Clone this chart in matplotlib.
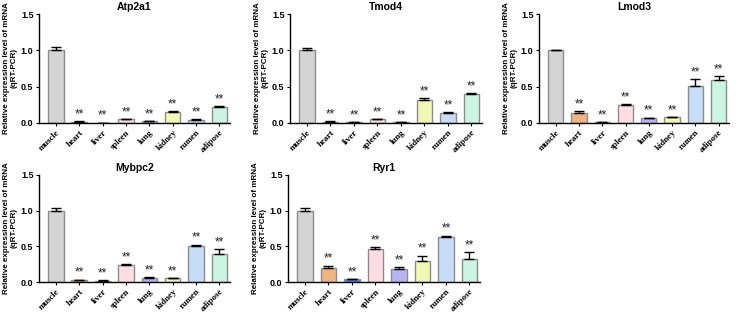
import matplotlib
matplotlib.use("Agg")
import matplotlib.pyplot as plt
import numpy as np

tissues = ["muscle", "heart", "liver", "spleen", "lung", "kidney", "rumen", "adipose"]
colors = ["#D4D4D4", "#F2B47E", "#3E86E6", "#FFDDE2", "#B4B4F5", "#F3F8B4", "#C6DCF7", "#C9F5E2"]

genes = ["Atp2a1", "Tmod4", "Lmod3", "Mybpc2", "Ryr1"]

atp2a1 = [1.00, 0.02, 0.003, 0.05, 0.025, 0.15, 0.04, 0.22]
atp2a1_err = [0.05, 0.005, 0.002, 0.005, 0.005, 0.01, 0.01, 0.015]
tmod4 = [1.00, 0.02, 0.01, 0.05, 0.01, 0.31, 0.14, 0.40]
tmod4_err = [0.03, 0.004, 0.003, 0.005, 0.003, 0.035, 0.015, 0.015]
lmod3 = [1.00, 0.14, 0.01, 0.25, 0.07, 0.08, 0.51, 0.59]
lmod3_err = [0.01, 0.025, 0.003, 0.01, 0.005, 0.005, 0.095, 0.055]
mybpc2 = [1.00, 0.03, 0.02, 0.245, 0.055, 0.05, 0.505, 0.39]
mybpc2_err = [0.04, 0.005, 0.005, 0.005, 0.01, 0.005, 0.02, 0.07]
ryr1 = [1.00, 0.20, 0.04, 0.46, 0.18, 0.30, 0.63, 0.32]
ryr1_err = [0.04, 0.03, 0.005, 0.03, 0.035, 0.07, 0.02, 0.10]

values = [atp2a1, tmod4, lmod3, mybpc2, ryr1]
errors = [atp2a1_err, tmod4_err, lmod3_err, mybpc2_err, ryr1_err]

W, H = 739, 312
fig = plt.figure(figsize=(W / 100, H / 100), dpi=100)

# axes boxes in pixels: left, right, top, bottom
boxes = [(39, 230, 14, 123), (290, 482, 14, 123), (539, 729, 14, 123),
         (39, 230, 175, 282), (288, 480, 175, 282)]

ylabel = "Relative expression level of mRNA\n(qRT-PCR)"

for gene, vals, errs, (l, r, t, b) in zip(genes, values, errors, boxes):
    ax = fig.add_axes([l / W, 1 - b / H, (r - l) / W, (b - t) / H])
    x = np.arange(len(tissues))
    lower = np.zeros(len(vals))
    ax.bar(x, vals, width=0.66, color=colors, edgecolor="#8C8C8C", linewidth=1.0,
           yerr=[lower, errs], error_kw=dict(ecolor="black", elinewidth=1.0, capsize=3.5, capthick=1.0),
           zorder=2)
    for i in range(1, len(tissues)):
        ax.text(x[i], vals[i] + errs[i] + 0.01, "**", ha="center", va="bottom",
                fontsize=8.5, color="#222222", family="Liberation Sans")
    ax.set_xlim(-0.72, 7.45)
    ax.set_ylim(0, 1.5)
    ax.set_yticks([0.0, 0.5, 1.0, 1.5])
    ax.set_yticklabels(["0.0", "0.5", "1.0", "1.5"], fontsize=6.5, fontweight="bold",
                       family="Liberation Sans")
    ax.set_xticks(x)
    ax.set_xticklabels(tissues, rotation=45, ha="right", rotation_mode="anchor",
                       fontsize=6.3, fontweight="bold", family="Liberation Serif")
    ax.tick_params(axis="both", length=2.5, width=0.8, pad=1.5)
    for s in ["top", "right"]:
        ax.spines[s].set_visible(False)
    for s in ["left", "bottom"]:
        ax.spines[s].set_linewidth(1.0)
    ax.set_title(gene, fontsize=7.5, fontweight="bold", family="Liberation Sans", pad=3)
    ax.set_ylabel(ylabel, fontsize=5.8, fontweight="bold", family="Liberation Sans",
                  labelpad=2, linespacing=1.15)

fig.savefig("out.png", dpi=100)
